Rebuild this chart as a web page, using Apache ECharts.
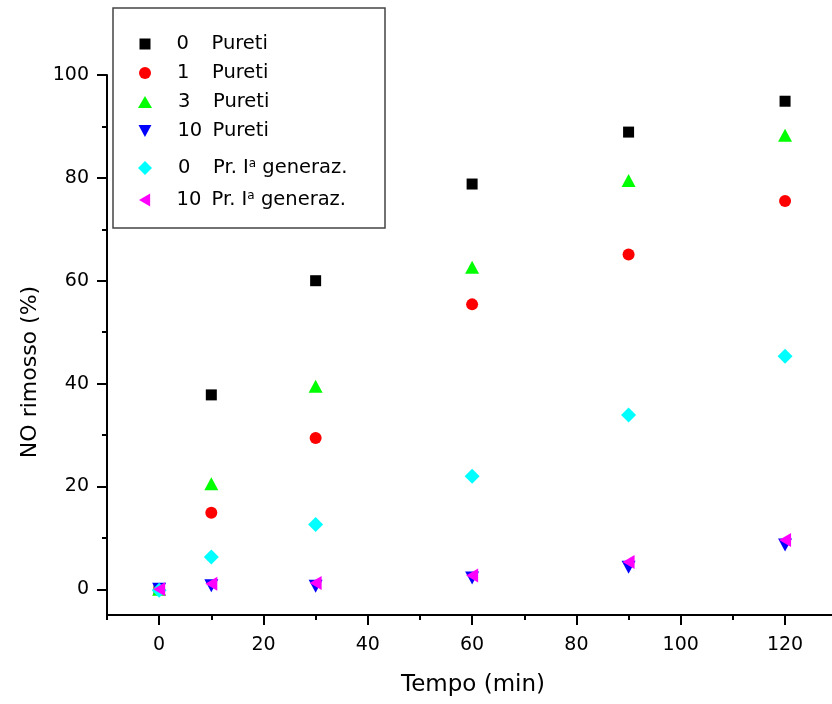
<!DOCTYPE html>
<html>
<head>
<meta charset="utf-8">
<script src="https://cdn.jsdelivr.net/npm/echarts@6/dist/echarts.min.js"></script>
<style>html,body{margin:0;padding:0;background:#fff;}#chart{width:832px;height:704px;}</style>
</head>
<body>
<div id="chart"></div>
<script>
// ---- data ----
const times = [0, 10, 30, 60, 90, 120];
const pureti0 = [0, 37.8, 60.0, 78.8, 88.9, 94.9];
const pureti1 = [0, 14.9, 29.4, 55.4, 65.1, 75.5];
const pureti3 = [0, 20.5, 39.5, 62.6, 79.5, 88.3];
const pureti10 = [0, 0.7, 0.6, 2.2, 4.3, 8.6];
const prGen0 = [-0.2, 6.3, 12.6, 22.0, 33.9, 45.3];
const prGen10 = [0, 1.1, 1.2, 2.7, 5.3, 9.6];

const seriesNames = ['0 Pureti', '1 Pureti', '3 Pureti', '10 Pureti', '0 Pr. Ia generaz.', '10 Pr. Ia generaz.'];
const legendNums = ['0', '1', '3', '10', '0', '10'];
const legendTexts = ['Pureti', 'Pureti', 'Pureti', 'Pureti', 'Pr. I|a| generaz.', 'Pr. I|a| generaz.'];

const xTickLabels = [0, 20, 40, 60, 80, 100, 120];
const xMinorTicks = [-10, 10, 30, 50, 70, 90, 110];
const yTickLabels = [0, 20, 40, 60, 80, 100];
const yMinorTicks = [10, 30, 50, 70, 90];

// ---- styles ----
const FONT = 'DejaVu Sans';
const FS = 19;
const LFS = 19.5;
const seriesValues = [pureti0, pureti1, pureti3, pureti10, prGen0, prGen10];
const colors = ['#000000', '#ff0000', '#00ff00', '#0000ff', '#00ffff', '#ff00ff'];
const DOWN_TRI = 'path://M0,0L14,0L7,13Z';
const LEFT_TRI = 'path://M12,0L12,14L0,7Z';
const symbols = ['rect', 'circle', 'triangle', DOWN_TRI, 'diamond', LEFT_TRI];
const sizes = [11, 12, [14, 13], [14, 13], 15, [12, 14]];
const legendIcon = [[11, 11], [12, 12], [14, 12], [13, 12], [14, 14], [12, 13]];
const legendRows = [44, 73, 102, 131, 168, 200];

const series = seriesValues.map((vals, i) => ({
  name: seriesNames[i],
  type: 'scatter',
  data: times.map((t, k) => [t, vals[k]]),
  symbol: symbols[i],
  symbolSize: sizes[i],
  symbolKeepAspect: false,
  itemStyle: { color: colors[i], opacity: 1 },
  emphasis: { disabled: true },
  xAxisIndex: 0, yAxisIndex: 0,
  z: 2 + i
}));

function legendLabel(i) {
  const parts = legendTexts[i].split('|');
  let s = '{g| }{n|' + legendNums[i] + '}';
  if (parts.length === 1) {
    s += '{t|' + parts[0] + '}';
  } else {
    s += '{t|' + parts[0] + '}{sup|' + parts[1] + '}{t|' + parts[2] + '}';
  }
  return s;
}

const legends = seriesNames.map((nm, i) => ({
  data: [{ name: nm, icon: symbols[i] }],
  orient: 'vertical',
  left: 145 - legendIcon[i][0] / 2,
  top: legendRows[i] - 10,
  padding: 0,
  itemWidth: legendIcon[i][0],
  itemHeight: legendIcon[i][1],
  selectedMode: false,
  formatter: () => legendLabel(i),
  textStyle: {
    fontFamily: FONT, fontSize: LFS, color: '#000',
    rich: {
      g: { width: 21, fontSize: LFS, lineHeight: 20 },
      n: { width: 35, fontSize: LFS, lineHeight: 20, fontFamily: FONT, color: '#000' },
      t: { fontSize: LFS, lineHeight: 20, fontFamily: FONT, color: '#000' },
      sup: { fontSize: 12, lineHeight: 11, verticalAlign: 'top', fontFamily: FONT, color: '#000' }
    }
  }
}));

const axisColor = '#000';
const option = {
  animation: false,
  backgroundColor: '#ffffff',
  grid: { left: 107, right: 0, top: 75, bottom: 89 },
  legend: legends,
  graphic: [{
    type: 'rect',
    shape: { x: 113, y: 8, width: 272, height: 220 },
    style: { fill: 'none', stroke: '#444', lineWidth: 1.5 },
    z: 10
  }],
  xAxis: [{
    type: 'value', min: -10, max: 129, position: 'bottom',
    axisLine: { show: true, onZero: false, lineStyle: { color: axisColor, width: 2 } },
    axisTick: { show: true, customValues: xTickLabels, length: 10, lineStyle: { color: axisColor, width: 2 } },
    axisLabel: { customValues: xTickLabels, margin: 21, fontSize: FS, color: '#000', fontFamily: FONT },
    splitLine: { show: false },
    name: 'Tempo (min)', nameLocation: 'middle', nameGap: 59,
    nameTextStyle: { fontSize: 23, color: '#000', fontFamily: FONT, padding: [0, 0, 0, 7] }
  }, {
    type: 'value', min: -10, max: 129, position: 'bottom',
    axisLine: { show: false, onZero: false },
    axisTick: { show: true, customValues: xMinorTicks, length: 5, lineStyle: { color: axisColor, width: 2 } },
    axisLabel: { show: false },
    splitLine: { show: false }
  }],
  yAxis: [{
    type: 'value', min: -5, max: 100, position: 'left',
    axisLine: { show: true, onZero: false, lineStyle: { color: axisColor, width: 2 } },
    axisTick: { show: true, customValues: yTickLabels, length: 10, lineStyle: { color: axisColor, width: 2 } },
    axisLabel: { customValues: yTickLabels, margin: 18, fontSize: FS, color: '#000', fontFamily: FONT },
    splitLine: { show: false },
    name: 'NO rimosso (%)', nameLocation: 'middle', nameGap: 66,
    nameTextStyle: { fontSize: 22, color: '#000', fontFamily: FONT, padding: [0, 54, 0, 0] }
  }, {
    type: 'value', min: -5, max: 100, position: 'left',
    axisLine: { show: false, onZero: false },
    axisTick: { show: true, customValues: yMinorTicks, length: 5, lineStyle: { color: axisColor, width: 2 } },
    axisLabel: { show: false },
    splitLine: { show: false }
  }],
  series: series
};

const chart = echarts.init(document.getElementById('chart'), null, { renderer: 'canvas' });
chart.setOption(option);
</script>
</body>
</html>
